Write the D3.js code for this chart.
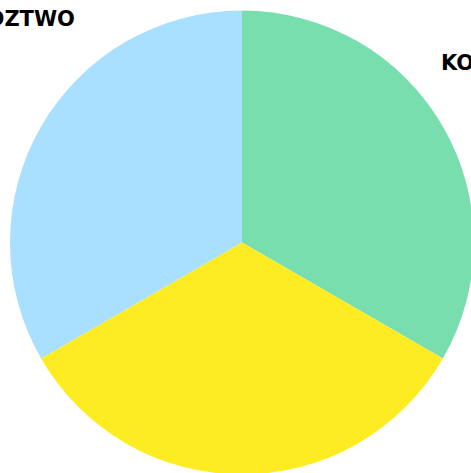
<!DOCTYPE html>
<html>
<head>
<meta charset="utf-8">
<script src="https://cdn.jsdelivr.net/npm/d3@7"></script>
<style>
  html, body { margin: 0; padding: 0; background: #fff; overflow: hidden; }
  svg { display: block; }
</style>
</head>
<body>
<svg id="chart" width="471" height="473"></svg>
<script>
const categories = ["KOMUNIKACJA", "EDUKACJA", "SĄSIEDZTWO"];
const values = [1, 1, 1];
const colors = ["#78deae", "#feec22", "#aae0ff"];
// label placement: angle (deg, clockwise from top), radius, anchor
const labelAngles = [47.8, 180, -36.7];
const labelRadii = [268.5, 290, 279.5];
const labelAnchors = ["start", "middle", "end"];

const width = 471, height = 473;
const cx = 242, cy = 242.5, R = 232;

const svg = d3.select("#chart");
const g = svg.append("g").attr("transform", `translate(${cx},${cy})`);

const pie = d3.pie().sort(null).value(d => d)(values);
const arc = d3.arc().innerRadius(0).outerRadius(R);
const color = d3.scaleOrdinal().domain(categories).range(colors);

g.selectAll("path.slice").data(pie).join("path")
  .attr("class", "slice")
  .attr("d", arc)
  .attr("fill", (d, i) => color(categories[i]));

g.selectAll("text.label").data(pie).join("text")
  .attr("class", "label")
  .attr("x", (d, i) => labelRadii[i] * Math.sin(labelAngles[i] * Math.PI / 180))
  .attr("y", (d, i) => -labelRadii[i] * Math.cos(labelAngles[i] * Math.PI / 180))
  .attr("dy", "0.35em")
  .attr("text-anchor", (d, i) => labelAnchors[i])
  .style("font-family", "DejaVu Sans, sans-serif")
  .style("font-weight", "bold")
  .style("font-size", "21px")
  .style("fill", "#000")
  .text((d, i) => categories[i]);
</script>
</body>
</html>
